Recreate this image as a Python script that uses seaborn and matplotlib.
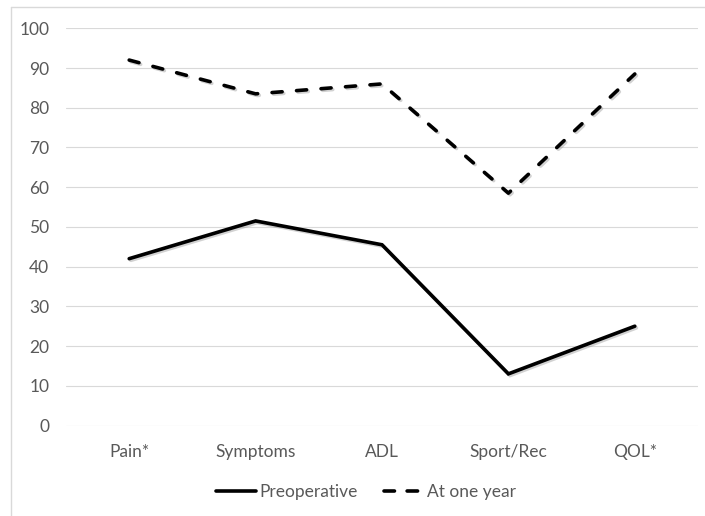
import matplotlib
matplotlib.use("Agg")
import matplotlib.pyplot as plt
import matplotlib.patheffects as pe
from matplotlib.lines import Line2D
import seaborn as sns
import pandas as pd

# KOOS subscale scores
categories = ["Pain*", "Symptoms", "ADL", "Sport/Rec", "QOL*"]
preoperative = [42, 51.5, 45.5, 13, 25]
at_one_year = [92, 83.5, 86, 58.5, 88.5]
y_ticks = list(range(0, 101, 10))

df = pd.DataFrame({
    "Subscale": categories * 2,
    "Score": preoperative + at_one_year,
    "Time": ["Preoperative"] * len(categories) + ["At one year"] * len(categories),
})

sns.set_style("white")
plt.rcParams["font.family"] = ["Lato", "DejaVu Sans"]

FS = 12.5
LW = 2.6
DASH = (2.8, 4.0)

fig = plt.figure(figsize=(7.05, 5.16), dpi=100)
ax = fig.add_axes([66 / 705, 1 - 425.5 / 516, (698 - 66) / 705, (425.5 - 28.3) / 516])

shadow = [pe.SimpleLineShadow(offset=(1.2, -1.2), shadow_color="gray", alpha=0.35), pe.Normal()]

sns.lineplot(
    data=df, x="Subscale", y="Score", style="Time",
    style_order=["Preoperative", "At one year"],
    dashes={"Preoperative": "", "At one year": DASH},
    color="black", linewidth=LW, sort=False, legend=False, ax=ax,
)
for ln in ax.lines:
    ln.set_path_effects(shadow)
    ln.set_solid_joinstyle("miter")
    ln.set_dash_capstyle("round")

ax.set_xlim(-0.5, len(categories) - 0.5)
ax.set_ylim(0, 100)
ax.set_yticks(y_ticks)
ax.set_xlabel("")
ax.set_ylabel("")
ax.grid(axis="y", color="#d9d9d9", linewidth=0.8)
ax.set_axisbelow(True)
for s in ax.spines.values():
    s.set_visible(False)
ax.tick_params(axis="both", length=0, colors="#595959", labelsize=FS)
ax.tick_params(axis="y", pad=12)
ax.tick_params(axis="x", pad=13)

# Legend below the axis labels
handles = [
    Line2D([], [], color="black", linewidth=LW),
    Line2D([], [], color="black", linewidth=LW, dashes=(2.9, 3.5), dash_capstyle="round"),
]
leg = fig.legend(
    handles, ["Preoperative", "At one year"], loc="center",
    bbox_to_anchor=(366 / 705, 1 - 492 / 516), ncol=2, frameon=False,
    fontsize=FS, handlelength=2.3, handletextpad=0.2, columnspacing=1.5,
)
for t in leg.get_texts():
    t.set_color("#595959")

# Chart area border
fig.add_artist(Line2D([10.5 / 705, 10.5 / 705], [0, 1 - 7 / 516], transform=fig.transFigure,
                      color="#d9d9d9", linewidth=1))
fig.add_artist(Line2D([10.5 / 705, 1], [1 - 7 / 516, 1 - 7 / 516], transform=fig.transFigure,
                      color="#d9d9d9", linewidth=1))

fig.savefig("out.png", dpi=100)
